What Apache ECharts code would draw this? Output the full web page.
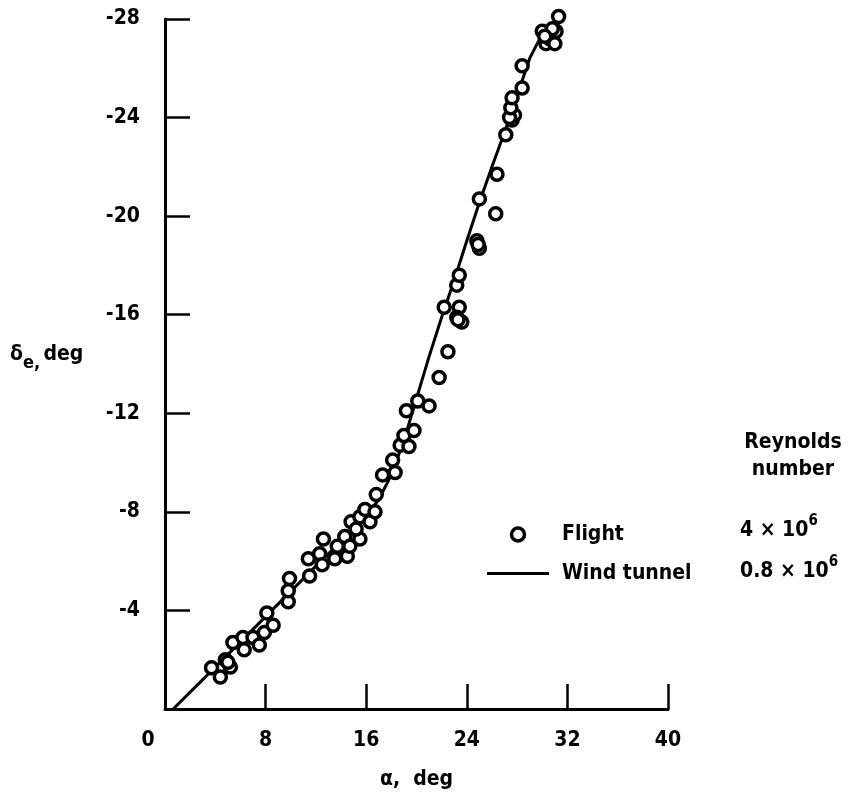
<!DOCTYPE html>
<html>
<head>
<meta charset="utf-8">
<script src="https://cdn.jsdelivr.net/npm/echarts@6/dist/echarts.min.js"></script>
<style>
html,body{margin:0;padding:0;background:#fff;}
#chart{width:849px;height:800px;}
</style>
</head>
<body>
<div id="chart"></div>
<script>
// Flight test points (angle of attack, deg ; elevator deflection, deg)
var flightAlpha = [3.7,4.4,4.8,5.2,5.0,5.4,6.2,6.3,7.0,7.5,7.9,8.6,8.1,9.8,9.8,9.9,11.5,11.4,12.3,12.5,12.6,13.5,13.7,14.3,14.5,14.7,14.8,15.5,15.5,15.2,15.9,16.3,16.7,16.8,17.3,18.3,18.1,18.7,19.4,19.0,19.8,19.2,20.1,21.0,21.8,22.5,22.2,23.4,23.2,23.6,23.3,23.2,23.4,24.8,25.0,24.9,25.0,26.3,26.4,27.1,27.6,27.8,27.4,27.5,27.6,28.4,28.4,30.0,30.3,30.6,31.1,30.8,31.0,31.3,30.2];
var flightDelta = [-1.67,-1.3,-2.0,-1.7,-1.9,-2.7,-2.9,-2.4,-2.9,-2.6,-3.1,-3.4,-3.9,-4.35,-4.8,-5.3,-5.4,-6.1,-6.3,-5.85,-6.9,-6.1,-6.6,-7.0,-6.2,-6.6,-7.6,-6.9,-7.8,-7.3,-8.1,-7.6,-8.0,-8.7,-9.5,-9.6,-10.1,-10.7,-10.65,-11.1,-11.3,-12.1,-12.5,-12.3,-13.45,-14.5,-16.3,-16.3,-15.9,-15.7,-15.8,-17.2,-17.6,-19.0,-18.7,-18.85,-20.7,-20.1,-21.7,-23.3,-23.9,-24.1,-24.0,-24.4,-24.8,-25.2,-26.1,-27.5,-27.0,-27.2,-27.5,-27.6,-27.0,-28.1,-27.3];
// Wind tunnel curve
var tunnelAlpha = [0.65,4,8,12,14,16,17,18,19,20,21,22,23,24,25,26,27,28,29,30.2];
var tunnelDelta = [0,-1.7,-3.75,-5.8,-6.8,-7.85,-8.5,-9.5,-10.9,-12.6,-14.3,-15.9,-17.4,-19.0,-20.55,-22.0,-23.4,-24.9,-26.4,-27.6];
// Axis ticks
var xTicks = {min:0, max:40, interval:8};
var yTicks = {min:-28, max:0, interval:4};
var seriesNames = ['Flight','Wind tunnel'];
var reynolds = ['4 \u00d7 10','0.8 \u00d7 10'];

var FONT = "'DejaVu Sans Condensed','Liberation Sans Narrow',sans-serif";
var FS = 21;
var flightData = flightAlpha.map(function(a,i){return [a, flightDelta[i]];});
var tunnelData = tunnelAlpha.map(function(a,i){return [a, tunnelDelta[i]];});

var supRich = {
  n:{fontSize:FS, fontWeight:'bold', fontFamily:FONT, lineHeight:34, color:'#000'},
  s:{fontSize:15, fontWeight:'bold', fontFamily:FONT, lineHeight:16, verticalAlign:'top', color:'#000'}
};
var subRich = {
  n:{fontSize:FS, fontWeight:'bold', fontFamily:FONT, lineHeight:34, color:'#000'},
  s:{fontSize:18, fontWeight:'bold', fontFamily:FONT, lineHeight:14, verticalAlign:'bottom', color:'#000'}
};

var chart = echarts.init(document.getElementById('chart'), null, {renderer:'canvas'});
chart.setOption({
  backgroundColor:'#fff',
  animation:false,
  grid:{left:165, right:181, top:19, bottom:91},
  xAxis:{
    type:'value', min:xTicks.min, max:xTicks.max, interval:xTicks.interval,
    splitLine:{show:false},
    axisLine:{show:true, lineStyle:{color:'#000', width:3}},
    axisTick:{show:true, inside:true, length:25, lineStyle:{color:'#000', width:2.5}},
    axisLabel:{
      color:'#000', fontFamily:FONT, fontSize:FS, fontWeight:'bold', margin:21,
      formatter:function(v){ return v===0 ? '{z|0}' : String(v); },
      rich:{z:{padding:[0,34,0,0], fontFamily:FONT, fontSize:FS, fontWeight:'bold', color:'#000'}}
    },
    name:'\u03b1,  deg', nameLocation:'middle', nameGap:60,
    nameTextStyle:{color:'#000', fontFamily:FONT, fontSize:FS, fontWeight:'bold'}
  },
  yAxis:{
    type:'value', min:yTicks.min, max:yTicks.max, interval:yTicks.interval, inverse:true,
    splitLine:{show:false},
    axisLine:{show:true, lineStyle:{color:'#000', width:3}},
    axisTick:{show:true, inside:true, length:25, lineStyle:{color:'#000', width:2.5}},
    axisLabel:{
      color:'#000', fontFamily:FONT, fontSize:FS, fontWeight:'bold', margin:25,
      formatter:function(v){ return v===0 ? '' : String(v); }
    }
  },
  legend:{
    orient:'vertical', left:482, top:519, itemWidth:62, itemHeight:13, itemGap:18,
    data:[
      {name:seriesNames[0], icon:'circle', itemStyle:{color:'#fff', borderColor:'#000', borderWidth:3.5}},
      {name:seriesNames[1], icon:'path://M0,0 L62,0 L62,3 L0,3 Z', itemStyle:{color:'#000', borderWidth:0}}
    ],
    formatter:function(n){ return '{a|'+n+'}'; },
    textStyle:{color:'#000', fontFamily:FONT, fontSize:FS, fontWeight:'bold',
      rich:{a:{padding:[0,0,0,8], color:'#000', fontFamily:FONT, fontSize:FS, fontWeight:'bold'}}}
  },
  graphic:[
    {type:'text', x:793, y:456, style:{text:'Reynolds\nnumber', fill:'#000', font:'bold '+FS+'px '+FONT, lineHeight:27, align:'center', verticalAlign:'middle'}},
    {type:'text', x:740, y:531, style:{
      text:'{n|'+reynolds[0]+'}{s|6}', fill:'#000', verticalAlign:'middle', rich:supRich}},
    {type:'text', x:740, y:572, style:{
      text:'{n|'+reynolds[1]+'}{s|6}', fill:'#000', verticalAlign:'middle', rich:supRich}},
    {type:'text', x:10, y:355, style:{
      text:'{n|\u03b4}{s|e,} {n|deg}', fill:'#000', verticalAlign:'middle', rich:subRich}}
  ],
  series:[
    {name:seriesNames[0], type:'scatter', data:flightData, symbol:'circle', symbolSize:12, clip:false,
     itemStyle:{color:'#fff', borderColor:'#000', borderWidth:3.5, opacity:1}, z:3},
    {name:seriesNames[1], type:'line', data:tunnelData, symbol:'none', smooth:false,
     lineStyle:{color:'#000', width:3}, itemStyle:{color:'#000'}, z:2}
  ]
});
</script>
</body>
</html>
